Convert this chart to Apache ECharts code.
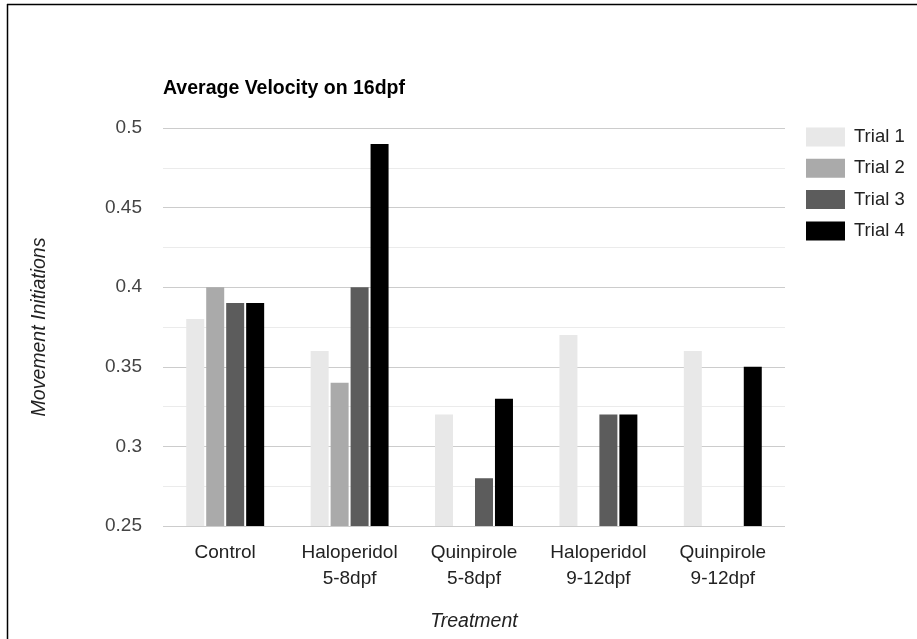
<!DOCTYPE html>
<html>
<head>
<meta charset="utf-8">
<script src="https://cdn.jsdelivr.net/npm/echarts@6/dist/echarts.min.js"></script>
<style>
html,body{margin:0;padding:0;background:#fff;}
#c{width:917px;height:639px;}
</style>
</head>
<body>
<div id="c"></div>
<script>
const categories = ['Control', 'Haloperidol\n5-8dpf', 'Quinpirole\n5-8dpf', 'Haloperidol\n9-12dpf', 'Quinpirole\n9-12dpf'];
const seriesNames = ['Trial 1', 'Trial 2', 'Trial 3', 'Trial 4'];
const trial1 = [0.38, 0.36, 0.32, 0.37, 0.36];
const trial2 = [0.40, 0.34, null, null, null];
const trial3 = [0.39, 0.40, 0.28, 0.32, null];
const trial4 = [0.39, 0.49, 0.33, 0.32, 0.35];
const yTicks = [0.25, 0.3, 0.35, 0.4, 0.45, 0.5];
const colors = ['#e8e8e8', '#aaaaaa', '#5c5c5c', '#000000'];

const chart = echarts.init(document.getElementById('c'), null, {renderer: 'canvas'});
const font = 'Arial, "Liberation Sans", sans-serif';
const allData = [trial1, trial2, trial3, trial4];

chart.setOption({
  backgroundColor: '#fff',
  animation: false,
  textStyle: {fontFamily: font},
  title: {
    text: 'Average Velocity on 16dpf',
    left: 158, top: 74,
    textStyle: {fontSize: 19.5, fontWeight: 'bold', color: '#000', fontFamily: font}
  },
  legend: {
    data: seriesNames,
    orient: 'vertical',
    left: 801, top: 122,
    itemWidth: 39, itemHeight: 19, itemGap: 11.3,
    icon: 'rect',
    textStyle: {fontSize: 18.5, color: '#222', fontFamily: font, lineHeight: 20, padding: [0, 0, 0, 4]}
  },
  grid: {left: 163, right: 132, top: 128, bottom: 113, containLabel: false},
  xAxis: {
    type: 'category',
    data: categories,
    name: 'Treatment',
    nameLocation: 'middle',
    nameGap: 86,
    nameTextStyle: {fontSize: 19.5, fontStyle: 'italic', color: '#222', fontFamily: font},
    axisLine: {show: false},
    axisTick: {show: false},
    axisLabel: {fontSize: 19, color: '#222', lineHeight: 26, margin: 14, fontFamily: font, interval: 0}
  },
  yAxis: {
    type: 'value',
    min: 0.25, max: 0.5, interval: 0.05,
    name: 'Movement Initiations',
    nameLocation: 'middle',
    nameGap: 113,
    nameTextStyle: {fontSize: 19.5, fontStyle: 'italic', color: '#222', fontFamily: font},
    axisLine: {show: false},
    axisTick: {show: false},
    axisLabel: {fontSize: 19, color: '#444', margin: 21, fontFamily: font,
      formatter: v => { const t = yTicks.find(x => Math.abs(x - v) < 1e-9); return t === undefined ? '' : String(t); }},
    splitLine: {show: true, lineStyle: {color: '#cccccc', width: 1}},
    minorTick: {show: false, splitNumber: 2},
    minorSplitLine: {show: true, lineStyle: {color: '#ebebeb', width: 1}}
  },
  graphic: [
    {type: 'line', shape: {x1: 7, y1: 4.5, x2: 917, y2: 4.5}, style: {stroke: '#000', lineWidth: 1.5}},
    {type: 'line', shape: {x1: 7.5, y1: 4, x2: 7.5, y2: 639}, style: {stroke: '#000', lineWidth: 1.5}}
  ],
  series: seriesNames.map((n, i) => ({
    name: n,
    type: 'bar',
    data: allData[i],
    barWidth: 18,
    barGap: '11%',
    itemStyle: {color: colors[i]}
  }))
});
</script>
</body>
</html>
